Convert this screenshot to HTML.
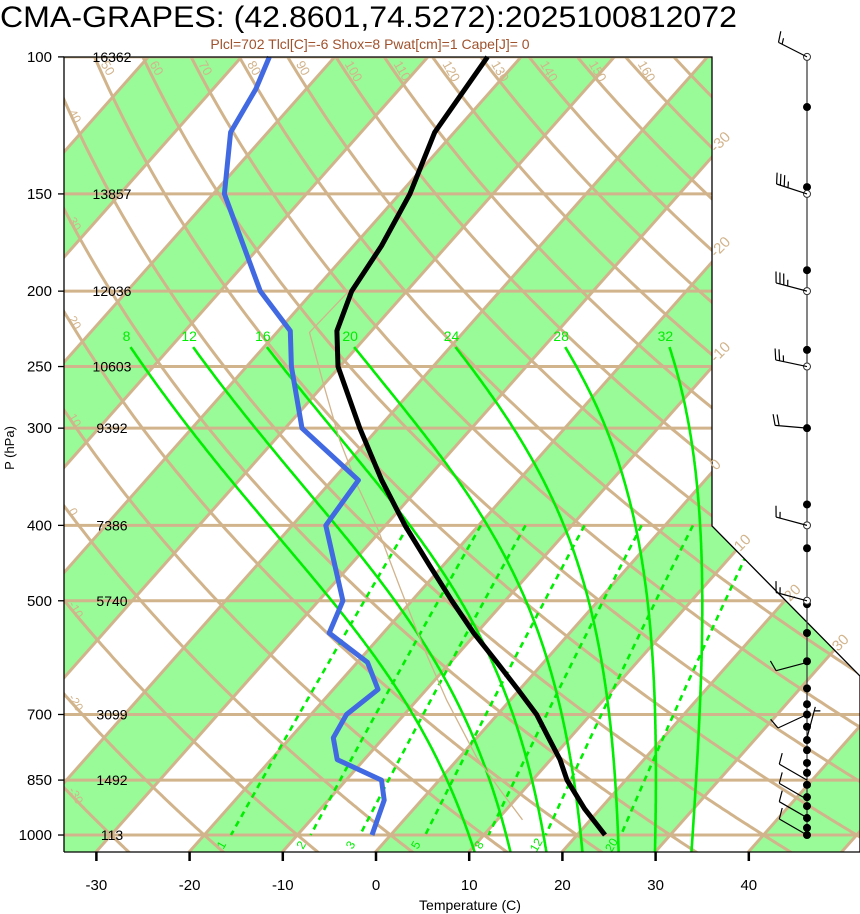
<!DOCTYPE html>
<html><head><meta charset="utf-8"><style>
html,body{margin:0;padding:0;background:#fff;}
svg{display:block;font-family:"Liberation Sans",sans-serif;}
</style></head><body>
<svg id="chart" width="860" height="914" viewBox="0 0 860 914" xmlns="http://www.w3.org/2000/svg">
<defs><clipPath id="plotclip"><polygon points="64,57 712,57 712,526 860,676 860,852 64,852"/></clipPath></defs>
<text x="0" y="27" font-size="30" textLength="737" lengthAdjust="spacingAndGlyphs">CMA-GRAPES: (42.8601,74.5272):2025100812072</text>
<text x="370" y="49" font-size="14" fill="#a0522d" text-anchor="middle">Plcl=702 Tlcl[C]=-6 Shox=8 Pwat[cm]=1 Cape[J]= 0</text>
<g id="bg" clip-path="url(#plotclip)"></g>
<g id="fg"></g>
</svg>
<script>
// ---- data ----
const tempP = [1000,925,850,800,750,700,650,600,550,500,450,400,350,300,250,225,200,175,150,125,100];
const tempT = [23.0,18.3,13.7,11.0,7.7,4.2,-0.2,-5.0,-10.3,-15.7,-21.5,-27.9,-34.7,-42.0,-50.2,-53.7,-55.9,-57.0,-58.9,-62.1,-63.6];
const dewP = [1000,902,850,800,750,700,650,600,550,500,400,350,300,250,225,200,150,125,110,100];
const dewT = [-2.0,-4.0,-6.2,-12.9,-15.4,-16.2,-15.2,-18.9,-25.8,-27.4,-36.4,-37.2,-48.2,-55.2,-58.7,-65.7,-78.8,-84.0,-85.4,-87.0];
const parcelP = [199,226,262,311,357,405,480,573,671,794,883,956];
const parcelT = [-56.2,-56.5,-50.3,-43.0,-36.6,-30.4,-22.6,-14.4,-6.8,1.8,8.0,12.7];
const labelP = [100,150,200,250,300,400,500,700,850,1000];
const heights = ["16362","13857","12036","10603","9392","7386","5740","3099","1492","113"];
const xTicks = [-30,-20,-10,0,10,20,30,40];
const moistLabels = [8,12,16,20,24,28,32];
const mixRatios = [1,2,3,5,8,12,20];
const barbP = [100,150,200,250,300,400,500,600,700,750,850,900,950,1000];
const barbDir = [297,288,285,282,275,285,285,255,245,15,300,300,300,300];
const barbSpd = [15,35,35,25,20,15,15,10,10,5,10,10,10,10];
const dotP = [116,147,188,238,300,376,428,505,550,598,648,679,700,726,755,778,808,832,862,894,918,951,979,1000];
const openP = [100,150,200,250,400,500];
// ---- geometry ----
const S=17.26, SY=17.66;
function Yv(p){return 132.182-44.061*Math.log10(p);}
const YB=Yv(1050);
function px(T,p){return 376+S*(0.54*T+0.90692*(Yv(p)-YB));}
function py(p){return 835-SY*Yv(p);}
const NS="http://www.w3.org/2000/svg";
const bg=document.getElementById('bg'), fg=document.getElementById('fg');
function mk(tag,attrs,parent){const e=document.createElementNS(NS,tag);for(const k in attrs)e.setAttribute(k,attrs[k]);parent.appendChild(e);return e;}
function pts(arr){return arr.map(a=>a[0].toFixed(1)+','+a[1].toFixed(1)).join(' ');}
// green bands
for(let T=-140;T<=40;T+=20){
  const e=mk('polygon',{points:pts([[px(T,90),py(90)],[px(T,1060),py(1060)],[px(T+10,1060),py(1060)],[px(T+10,90),py(90)]]),fill:'#98fb98'},bg);
  
  
}
// isotherms
for(let T=-150;T<=60;T+=10){
  const e=mk('line',{x1:px(T,90),y1:py(90),x2:px(T,1060),y2:py(1060),stroke:'#d2b48c','stroke-width':3},bg);
  
  
}
// isobars
labelP.forEach(p=>{
  const e=mk('line',{x1:64,y1:py(p),x2:860,y2:py(p),stroke:'#d2b48c','stroke-width':3},bg);
  
  
});
// dry adiabats
function dryT(th,p){return (th+273.15)*Math.pow(p/1000,0.2857)-273.15;}
for(let th=-40;th<=180;th+=10){
  const a=[];for(let p=95;p<=1060;p+=5)a.push([px(dryT(th,p),p),py(p)]);
  const e=mk('polyline',{points:pts(a),fill:'none',stroke:'#d2b48c','stroke-width':3},bg);
  
  
}
// moist adiabats
function dTdp(T,p){const es=6.112*Math.exp(17.67*(T-273.15)/(T-29.65));const ws=0.622*es/(p-es);
  const Rd=287.04,Cp=1005.7,Lv=2.501e6;return (Rd*T+Lv*ws)/(p*(Cp+Lv*Lv*ws*0.622/(Rd*T*T)));}
function moist(T0,p0,p1){let T=T0+273.15,p=p0;const out=[[T0,p0]];const dp=p1<p0?-2:2;
  while((dp<0&&p>p1)||(dp>0&&p<p1)){const k1=dTdp(T,p);const k2=dTdp(T+k1*dp/2,p+dp/2);T+=k2*dp;p+=dp;out.push([T-273.15,p]);}return out;}
moistLabels.forEach(l=>{
  const up=moist(l+0.4,1000,236).reverse(), dn=moist(l+0.4,1000,1060);
  const a=up.concat(dn.slice(1)).map(q=>[px(q[0],q[1]),py(q[1])]);
  const e=mk('polyline',{points:pts(a),fill:'none',stroke:'#00ee00','stroke-width':2.6},bg);
  
  
  const t=mk('text',{x:a[0][0]-4,y:py(236)-6,'font-size':14,fill:'#00ee00','text-anchor':'middle'},fg);t.textContent=l;
  
  
});
// mixing ratio lines
function tdw(w,p){const e=w*p/(622+w);const l=Math.log(e/6.112);return 243.5*l/(17.67-l);}
mixRatios.forEach(w=>{
  const a=[];for(let p=400;p<=1000;p+=10)a.push([px(tdw(w,p),p),py(p)]);
  const e=mk('polyline',{points:pts(a),fill:'none',stroke:'#00ee00','stroke-width':2.6,'stroke-dasharray':'6,5'},bg);
  
  
  const x=px(tdw(w,1000),1000)-6,y=py(1000)+12;
  const t=mk('text',{x:x,y:y,'font-size':12,fill:'#00ee00','text-anchor':'middle',transform:`rotate(-60 ${x} ${y})`},fg);t.textContent=w;
  
  
});
// parcel path
(function(){
  const e=mk('polyline',{points:pts(parcelP.map((p,i)=>[px(parcelT[i],p),py(p)])),fill:'none',stroke:'#d2b48c','stroke-width':1.3},bg);
  
  })();
// profiles
(function(){
  const d=mk('polyline',{points:pts(dewP.map((p,i)=>[px(dewT[i],p),py(p)])),fill:'none',stroke:'#4169e1','stroke-width':5,'stroke-linejoin':'round'},fg);
  
  
  const t=mk('polyline',{points:pts(tempP.map((p,i)=>[px(tempT[i],p),py(p)])),fill:'none',stroke:'#000','stroke-width':5,'stroke-linejoin':'round'},fg);
  
  
})();
// border
(function(){const b=mk('polyline',{points:'64,852 64,57 712,57 712,526 860,676 860,852 64,852',fill:'none',stroke:'#000','stroke-width':1.3},fg);
  
  })();
// isotherm labels on right
[[-30,145],[-20,250],[-10,355],[0,463]].forEach(v=>{
  const x=716,y=v[1]+8;const t=mk('text',{x:x,y:y,'font-size':15,fill:'#d2b48c',transform:`rotate(-45 ${x} ${y})`},fg);t.textContent=v[0];
  
  });
[[10,740,552],[20,790,602],[30,838,652]].forEach(v=>{
  const t=mk('text',{x:v[1],y:v[2],'font-size':15,fill:'#d2b48c',transform:`rotate(-45 ${v[1]} ${v[2]})`},fg);t.textContent=v[0];
  
  });
// dry adiabat labels
for(let th=50;th<=160;th+=10){const x=px(dryT(th,104),104),y=64;
  const t=mk('text',{x:x,y:y,'font-size':13,fill:'#d2b48c',transform:`rotate(60 ${x} ${y})`},fg);t.textContent=th;
  
  }
for(let th=40;th>=-30;th-=10){let p=100;while(p<1050&&px(dryT(th,p),p)<72)p+=1;const x=68,y=py(p)-6;
  const t=mk('text',{x:x,y:y,'font-size':12,fill:'#d2b48c',transform:`rotate(60 ${x} ${y})`},fg);t.textContent=th;
  
  }
// y axis labels
labelP.forEach((p,i)=>{const y=py(p);
  const l=mk('line',{x1:58,y1:y,x2:64,y2:y,stroke:'#000','stroke-width':1.3},fg);
  
  
  const t=mk('text',{x:52,y:y+5,'font-size':15,'text-anchor':'end'},fg);t.textContent=p;
  
  
  const h=mk('text',{x:112,y:y+5,'font-size':14,'text-anchor':'middle'},fg);h.textContent=heights[i];
  
  });
(function(){const t=mk('text',{x:14,y:448,'font-size':13,'text-anchor':'middle',transform:'rotate(-90 14 448)'},fg);t.textContent='P (hPa)';
  
  })();
// x axis
xTicks.forEach(T=>{const x=px(T,1050);
  const l=mk('line',{x1:x,y1:852,x2:x,y2:861,stroke:'#000','stroke-width':2.5},fg);
  
  
  const t=mk('text',{x:x,y:890,'font-size':15,'text-anchor':'middle'},fg);t.textContent=T;
  
  });
(function(){const t=mk('text',{x:470,y:910,'font-size':14,'text-anchor':'middle'},fg);t.textContent='Temperature (C)';
  
  })();
// wind column
(function(){const l=mk('line',{x1:807,y1:57,x2:807,y2:835,stroke:'#333','stroke-width':1.2},fg);
  
  })();
dotP.forEach(p=>{const c=mk('circle',{cx:807,cy:py(p),r:4,fill:'#000'},fg);
  
  });
openP.forEach(p=>{const c=mk('circle',{cx:807,cy:py(p),r:3.5,fill:'#fff',stroke:'#333','stroke-width':1},fg);
  
  });
barbP.forEach((p,i)=>{
  const r=barbDir[i]*Math.PI/180,ux=Math.sin(r),uy=-Math.cos(r),L=32;
  const x0=807,y0=py(p),x1=x0+ux*L,y1=y0+uy*L;
  let d=`M${x0},${y0}L${x1.toFixed(1)},${y1.toFixed(1)}`;
  const fx=-uy,fy=ux;let s=barbSpd[i],k=0;
  while(s>=10){const bx=x1-ux*k*4,by=y1-uy*k*4;d+=`M${bx.toFixed(1)},${by.toFixed(1)}l${(fx*11+ux*3).toFixed(1)},${(fy*11+uy*3).toFixed(1)}`;s-=10;k++;}
  if(s>=5){if(k==0)k=1;const bx=x1-ux*k*4,by=y1-uy*k*4;d+=`M${bx.toFixed(1)},${by.toFixed(1)}l${(fx*6+ux*1.5).toFixed(1)},${(fy*6+uy*1.5).toFixed(1)}`;}
  const e=mk('path',{d:d,fill:'none',stroke:'#000','stroke-width':1.2},fg);
  
  
});
</script>
</body></html>
